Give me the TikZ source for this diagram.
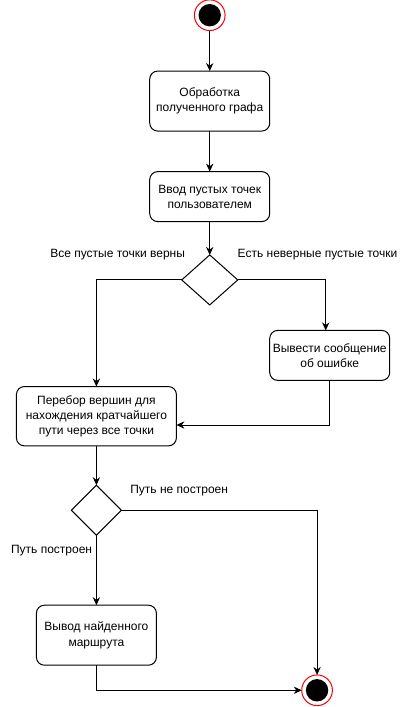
\documentclass[tikz,border=0pt]{standalone}
\usepackage{fontspec}
\setmainfont{Liberation Sans}
\usepackage{tikz}
\usetikzlibrary{positioning, shapes.geometric, arrows.meta}

\begin{document}
\begin{tikzpicture}[
node distance=30pt,
activity/.style={draw, rounded corners=6pt, align=center, inner sep=2pt, outer sep=0pt,
  font=\fontsize{9}{11.5}\selectfont, line width=0.75pt},
decision/.style={draw, diamond, inner sep=0pt, outer sep=0pt, line width=0.75pt},
terminal/.style={circle, draw=red, fill=white, line width=0.75pt, inner sep=0pt, outer sep=0pt,
  minimum size=23pt, path picture={\fill[black] (path picture bounding box.center) circle (8.4pt);}},
guard/.style={inner sep=0pt, font=\fontsize{9}{11}\selectfont},
flow/.style={-{Stealth[length=6pt,width=5.5pt]}, line width=0.75pt}
]
\useasboundingbox (0,0) rectangle (304.5pt,-530.25pt);

% Nodes
\node (start) [terminal] at (157.3pt,-11.4pt) {};
\node (process) [activity, minimum width=90pt, minimum height=45pt, below=30.4pt of start] {Обработка\\полученного графа};
\node (input) [activity, minimum width=90pt, minimum height=37.5pt, below=30.4pt of process] {Ввод пустых точек\\пользователем};
\node (check) [decision, minimum width=42pt, minimum height=37.5pt, below=25pt of input] {};
\node (error) [activity, minimum width=90pt, minimum height=37.5pt, below=19.1pt of check, xshift=90pt] {Вывести сообщение\\об ошибке};
\node (search) [activity, minimum width=120pt, minimum height=44.5pt, below=61.2pt of check, xshift=-85pt] {Перебор вершин для\\нахождения кратчайшего\\пути через все точки};
\node (found) [decision, minimum width=37.5pt, minimum height=37.5pt, below=29.5pt of search] {};
\node (output) [activity, minimum width=90pt, minimum height=45pt, below=52.5pt of found] {Вывод найденного\\маршрута};
\node (end) [terminal, right=109pt of output, yshift=-41.3pt] {};

% Guards
\node (allok) [guard, left=18.4pt of check.north] {Все пустые точки верны};
\node (someerr) [guard, right=20.8pt of check.north] {Есть неверные пустые точки};
\node (nopath) [guard, right=6.5pt of found.east, yshift=15pt] {Путь не построен};
\node (haspath) [guard, left=3pt of found.south, yshift=-11.25pt] {Путь построен};

    % Arrows
    \draw[flow] (start) -- (process);
    \draw[flow] (process) -- (input);
    \draw[flow] (input) -- (check);
    \draw[flow] (check) -| (search);
    \draw[flow] (check) -| ([xshift=-3pt]error.north);
    \draw[flow] (error) |- ([yshift=-6.6pt]search.east);
    \draw[flow] (search) -- (found);
    \draw[flow] (found) -| (end);
    \draw[flow] (found) -- (output);
    \draw[flow] (output) |- (end);
\end{tikzpicture}
\end{document}
